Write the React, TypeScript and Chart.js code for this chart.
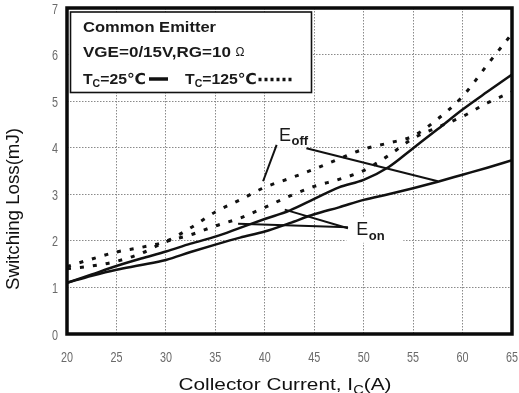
import React, { useEffect, useRef } from "react";
import { Chart, registerables } from "chart.js";

Chart.register(...registerables);

// ---------- data ----------
const currentA = [20, 22.5, 25, 27.5, 30, 32.5, 35, 37.5, 40, 42.5, 45, 47.5, 50, 52.5, 55, 57.5, 60, 62.5, 65];
const eoff125 = [1.45, 1.61, 1.76, 1.86, 1.99, 2.28, 2.62, 2.88, 3.15, 3.34, 3.54, 3.76, 3.97, 4.1, 4.25, 4.62, 5.1, 5.78, 6.45];
const eon125 = [1.4, 1.46, 1.56, 1.73, 1.98, 2.13, 2.32, 2.49, 2.72, 2.96, 3.17, 3.32, 3.51, 3.83, 4.2, 4.44, 4.67, 4.96, 5.2];
const eoff25 = [1.1, 1.28, 1.46, 1.62, 1.77, 1.94, 2.09, 2.28, 2.47, 2.65, 2.9, 3.15, 3.31, 3.58, 3.99, 4.4, 4.82, 5.2, 5.57];
const eon25 = [1.1, 1.25, 1.38, 1.48, 1.59, 1.76, 1.92, 2.07, 2.2, 2.38, 2.57, 2.72, 2.88, 3.0, 3.13, 3.27, 3.42, 3.57, 3.73];

const xTicks = [20, 25, 30, 35, 40, 45, 50, 55, 60, 65];
const yTicks = [0, 1, 2, 3, 4, 5, 6, 7];

const legendTitle = "Common Emitter";
const legendCond = "VGE=0/15V,RG=10";
const legendOhm = "Ω";
const legendT = "T";
const legendTsub = "C";
const legend25 = "=25℃";
const legend125 = "=125℃";

const yTitle = "Switching Loss(mJ)";
const xTitleMain = "Collector Current, I";
const xTitleSub = "C";
const xTitleEnd = "(A)";

const eoffLabel = ["E", "off"];
const eonLabel = ["E", "on"];
// annotation anchors in data units [x, y]
const eoffLabelAt = [41.44, 4.15];
const eonLabelAt = [49.26, 2.13];
// pointer lines in data units [x1, y1, x2, y2]
const eoffPointers = [
  [41.2, 4.06, 39.83, 3.28],
  [44.21, 3.99, 57.5, 3.28],
];
const eonPointers = [
  [48.41, 2.29, 37.3, 2.37],
  [48.41, 2.27, 42.02, 2.67],
];

// ---------- helpers ----------
const SANS = "'Liberation Sans', Arial, 'DejaVu Sans', sans-serif";

type Run = { text: string; font: string; dy?: number };

function drawRuns(
  ctx: CanvasRenderingContext2D,
  runs: Run[],
  x: number,
  y: number,
  targetW?: number,
  align: "left" | "center" | "right" = "left",
  fixedSx?: number
) {
  ctx.save();
  let total = 0;
  const widths = runs.map((r) => {
    ctx.font = r.font;
    const w = ctx.measureText(r.text).width;
    total += w;
    return w;
  });
  const sx = fixedSx ? fixedSx : targetW ? targetW / total : 1;
  ctx.translate(x, y);
  ctx.scale(sx, 1);
  let cx = align === "center" ? -total / 2 : align === "right" ? -total : 0;
  ctx.textAlign = "left";
  runs.forEach((r, i) => {
    ctx.font = r.font;
    ctx.fillText(r.text, cx, r.dy || 0);
    cx += widths[i];
  });
  ctx.restore();
  return total * sx;
}

const mk = (ys: number[]) => ys.map((v, i) => ({ x: currentA[i], y: v }));

const overlayPlugin = {
  id: "overlay",
  beforeDatasetsDraw(chart: any) {
    const { ctx, scales } = chart;
    const xs = scales.x;
    const ys = scales.y;
    ctx.save();
    const ex = xs.getPixelForValue(eoffLabelAt[0]);
    const ey = ys.getPixelForValue(eoffLabelAt[1]);
    const nx = xs.getPixelForValue(eonLabelAt[0]);
    const ny = ys.getPixelForValue(eonLabelAt[1]);
    ctx.fillStyle = "#fff";
    ctx.fillRect(ex - 4, ey - 17, 31, 24);
    ctx.fillRect(nx - 10, ny - 17, 57, 25);
    ctx.fillStyle = "#1a1a1a";
    ctx.textBaseline = "alphabetic";
    ctx.font = `18px ${SANS}`;
    ctx.fillText(eoffLabel[0], ex, ey);
    const ew = ctx.measureText(eoffLabel[0]).width;
    ctx.font = `bold 13px ${SANS}`;
    ctx.fillText(eoffLabel[1], ex + ew + 0.5, ey + 4);
    ctx.font = `18px ${SANS}`;
    ctx.fillText(eonLabel[0], nx, ny);
    ctx.font = `bold 13px ${SANS}`;
    ctx.fillText(eonLabel[1], nx + ew + 0.5, ny + 5);
    ctx.strokeStyle = "#111";
    ctx.lineWidth = 2;
    [...eoffPointers, ...eonPointers].forEach((p) => {
      ctx.beginPath();
      ctx.moveTo(xs.getPixelForValue(p[0]), ys.getPixelForValue(p[1]));
      ctx.lineTo(xs.getPixelForValue(p[2]), ys.getPixelForValue(p[3]));
      ctx.stroke();
    });
    ctx.restore();
  },
  afterDatasetsDraw(chart: any) {
    const { ctx, chartArea: a } = chart;
    ctx.save();
    ctx.textBaseline = "alphabetic";
    const bx = a.left + 3.5;
    const by = a.top + 4;
    ctx.fillStyle = "#fff";
    ctx.fillRect(bx, by, 241, 80.5);
    ctx.strokeStyle = "#111";
    ctx.lineWidth = 1.6;
    ctx.strokeRect(bx, by, 241, 80.5);
    ctx.fillStyle = "#1a1a1a";
    const bold15 = `bold 15px ${SANS}`;
    drawRuns(ctx, [{ text: legendTitle, font: bold15 }], bx + 12.5, by + 19.5, 133);
    drawRuns(ctx, [{ text: legendCond, font: bold15 }], bx + 12.5, by + 44.5, 148);
    drawRuns(ctx, [{ text: legendOhm, font: `12px ${SANS}` }], bx + 165, by + 44);
    const tRuns = (s: string): Run[] => [
      { text: legendT, font: bold15 },
      { text: legendTsub, font: `bold 10px ${SANS}`, dy: 3 },
      { text: s, font: bold15 },
    ];
    drawRuns(ctx, tRuns(legend25), bx + 12.5, by + 72, 63);
    drawRuns(ctx, tRuns(legend125), bx + 114.5, by + 72, 72);
    ctx.strokeStyle = "#111";
    ctx.lineWidth = 3.5;
    ctx.beginPath();
    ctx.moveTo(bx + 78.5, by + 67);
    ctx.lineTo(bx + 97.5, by + 67);
    ctx.stroke();
    ctx.setLineDash([3, 3]);
    ctx.beginPath();
    ctx.moveTo(bx + 188, by + 67.5);
    ctx.lineTo(bx + 222, by + 67.5);
    ctx.stroke();
    ctx.setLineDash([]);
    ctx.lineWidth = 3.5;
    ctx.strokeStyle = "#0a0a0a";
    ctx.strokeRect(a.left, a.top, a.right - a.left, a.bottom - a.top);
    ctx.restore();
  },
  afterDraw(chart: any) {
    const { ctx, chartArea: a, scales } = chart;
    ctx.save();
    ctx.textBaseline = "alphabetic";
    // condensed tick labels from the library's scales
    ctx.fillStyle = "#6a6a6a";
    const tickFont = `15px ${SANS}`;
    scales.x.ticks.forEach((t: any) => {
      const px = scales.x.getPixelForValue(t.value);
      drawRuns(ctx, [{ text: String(t.value), font: tickFont }], px, a.bottom + 28, undefined, "center", 0.72);
    });
    scales.y.ticks.forEach((t: any) => {
      const py = scales.y.getPixelForValue(t.value);
      drawRuns(ctx, [{ text: String(t.value), font: tickFont }], a.left - 9, py + 5.5, undefined, "right", 0.72);
    });
    ctx.fillStyle = "#111";
    ctx.save();
    ctx.translate(18.5, 209);
    ctx.rotate(-Math.PI / 2);
    drawRuns(ctx, [{ text: yTitle, font: `18px ${SANS}` }], 0, 0, 162, "center");
    ctx.restore();
    drawRuns(
      ctx,
      [
        { text: xTitleMain, font: `17px ${SANS}` },
        { text: xTitleSub, font: `12px ${SANS}`, dy: 4 },
        { text: xTitleEnd, font: `17px ${SANS}` },
      ],
      (a.left + a.right) / 2 - 4.5,
      389.5,
      213,
      "center"
    );
    ctx.restore();
  },
};

export default function App() {
  const ref = useRef<HTMLCanvasElement | null>(null);
  useEffect(() => {
    if (!ref.current) return;
    const dotted = { borderDash: [4, 9], borderWidth: 3, borderCapStyle: "butt" };
    const solid = { borderWidth: 2.5 };
    const common = {
      borderColor: "#111",
      backgroundColor: "#111",
      pointRadius: 0,
      fill: false,
      cubicInterpolationMode: "monotone",
    };
    const chart = new Chart(ref.current, {
      type: "line",
      data: {
        datasets: [
          { label: "Eoff Tc=125", data: mk(eoff125), ...common, ...dotted },
          { label: "Eon Tc=125", data: mk(eon125), ...common, ...dotted },
          { label: "Eoff Tc=25", data: mk(eoff25), ...common, ...solid },
          { label: "Eon Tc=25", data: mk(eon25), ...common, ...solid },
        ] as any,
      },
      options: {
        responsive: false,
        animation: false,
        layout: { padding: { top: 8, right: 7, left: 0, bottom: 0 } },
        plugins: { legend: { display: false }, tooltip: { enabled: false } },
        scales: {
          x: {
            type: "linear",
            min: 20,
            max: 65,
            afterBuildTicks: (s: any) => {
              s.ticks = xTicks.map((v) => ({ value: v }));
            },
            afterFit: (s: any) => {
              s.height = 59;
            },
            ticks: { display: false },
            grid: { color: "#8a8a8a", lineWidth: 1, drawTicks: false },
            border: { display: false, dash: [1.5, 1.5] },
          },
          y: {
            type: "linear",
            min: 0,
            max: 7,
            afterBuildTicks: (s: any) => {
              s.ticks = yTicks.map((v) => ({ value: v }));
            },
            afterFit: (s: any) => {
              s.width = 67;
            },
            ticks: { display: false },
            grid: { color: "#8a8a8a", lineWidth: 1, drawTicks: false },
            border: { display: false, dash: [1.5, 1.5] },
          },
        },
      } as any,
      plugins: [overlayPlugin],
    });
    return () => chart.destroy();
  }, []);
  return (
    <div style={{ position: "fixed", left: 0, top: 0, width: 519, height: 393, background: "#fff" }}>
      <canvas ref={ref} width={519} height={393} style={{ width: 519, height: 393, display: "block" }} />
    </div>
  );
}
